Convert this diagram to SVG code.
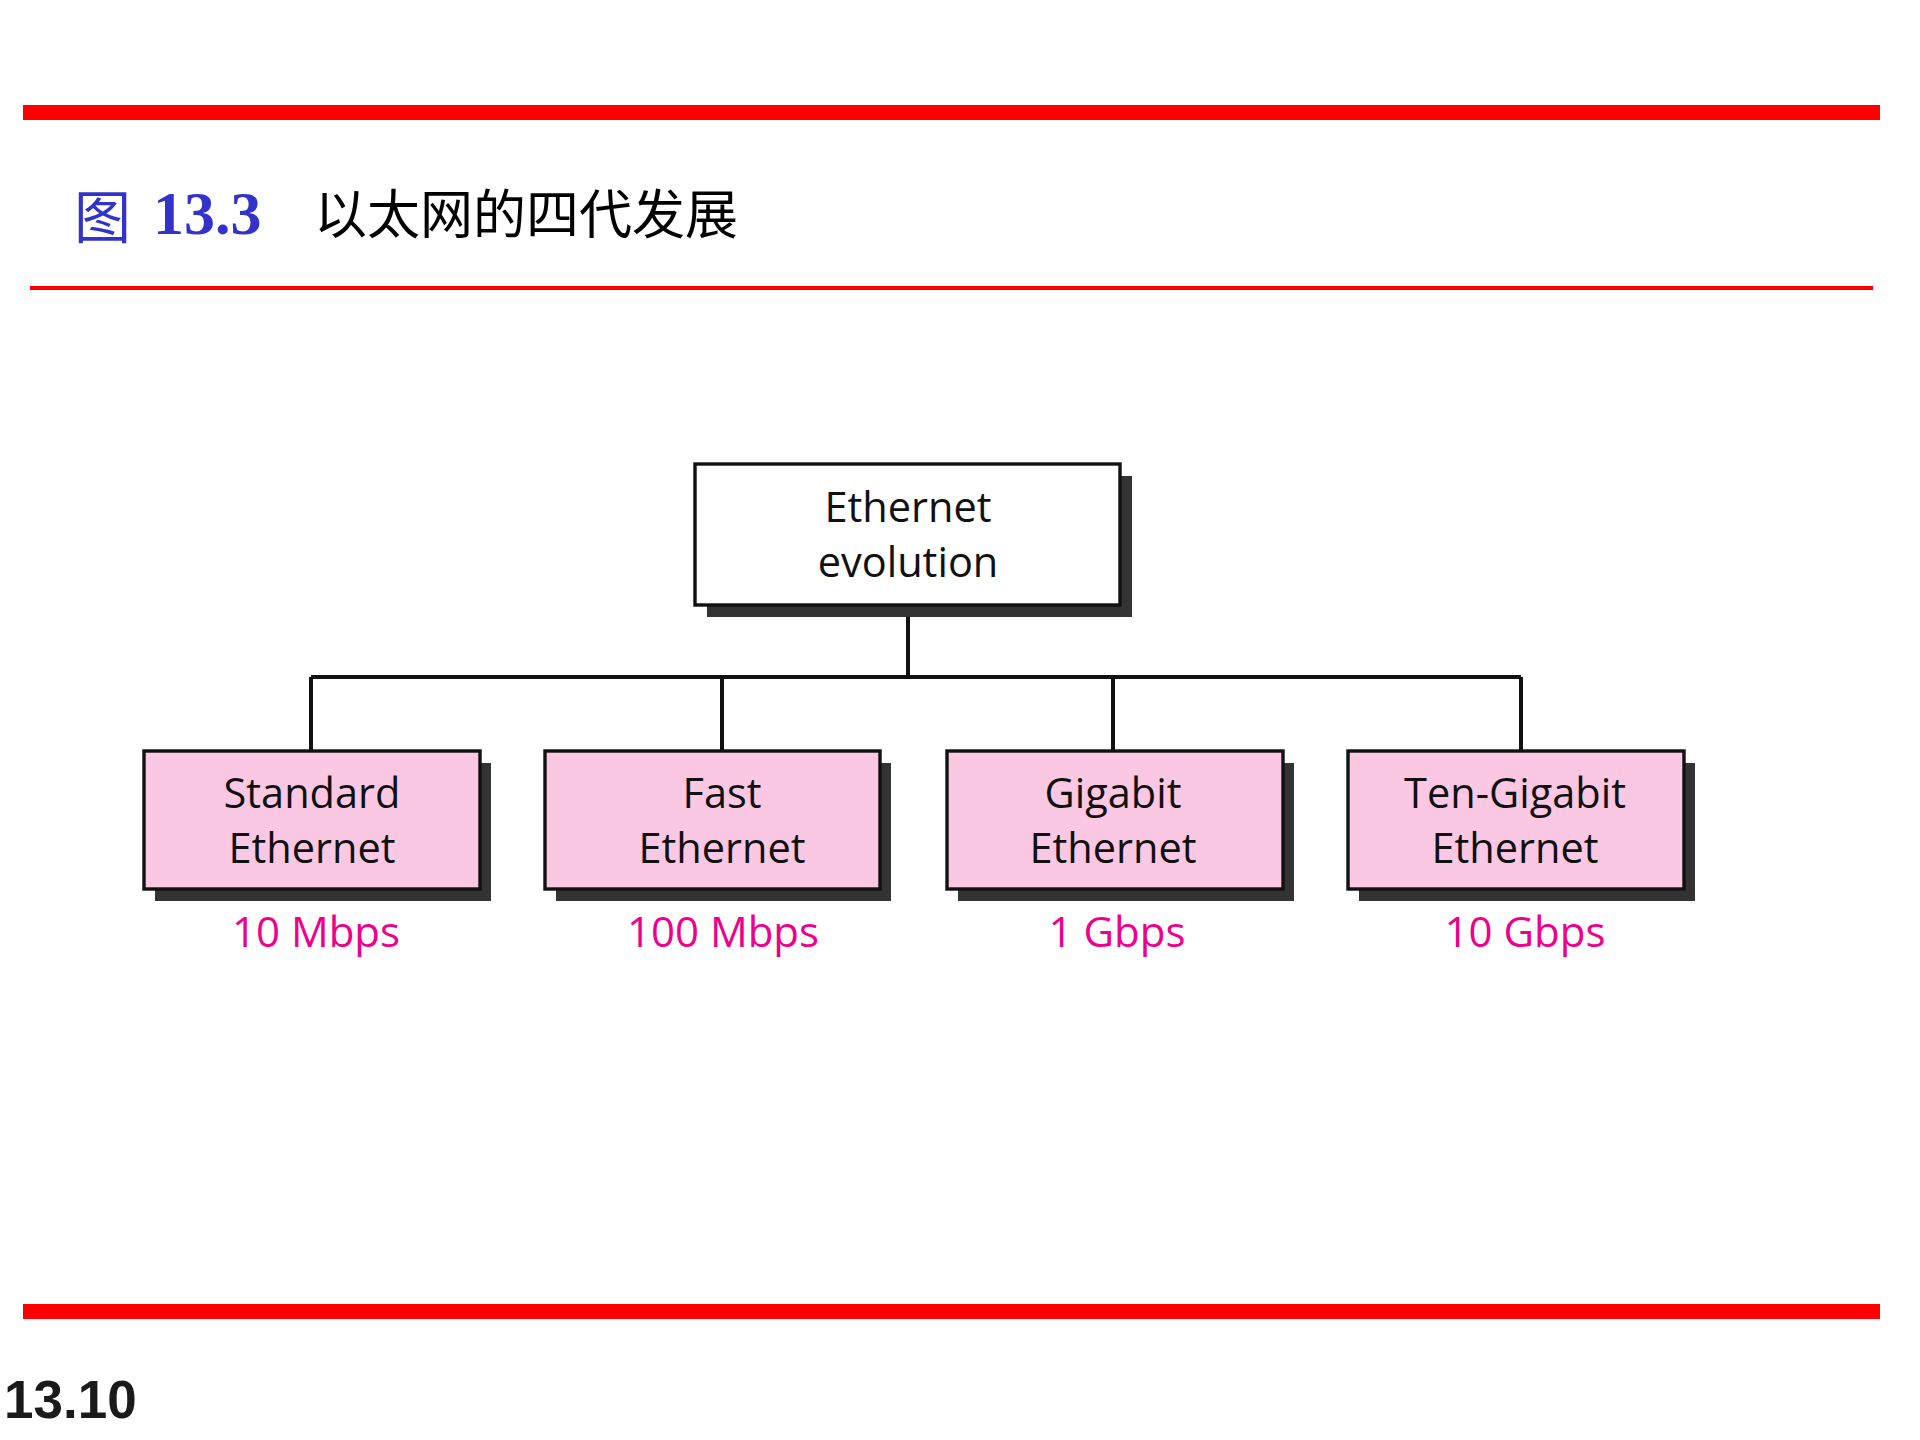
<svg xmlns="http://www.w3.org/2000/svg" width="1920" height="1440" viewBox="0 0 1920 1440">
<style>
.bar{fill:#ff0000}
.shadow{fill:#333333}
.top{fill:#ffffff;stroke:#111111;stroke-width:3.4}
.gen{fill:#fac8e2;stroke:#111111;stroke-width:3.4}
.lbl{font-family:"Open Sans","Noto Sans","DejaVu Sans",sans-serif;font-size:41.5px;fill:#111111;text-anchor:middle}
.spd{font-family:"Open Sans","Noto Sans","DejaVu Sans",sans-serif;font-size:42px;fill:#ec008c;text-anchor:middle}
.conn{fill:none;stroke:#111111;stroke-width:4}
</style>
<rect width="1920" height="1440" fill="#ffffff"/>
<g id="decor">
<rect class="bar" x="23" y="105" width="1857" height="15"/>
<rect class="bar" x="30" y="286" width="1843" height="4"/>
<rect class="bar" x="23" y="1304" width="1857" height="15"/>
</g>
<g id="title">
<text x="74" y="238" font-family="'Noto Sans CJK SC',sans-serif" font-size="57" fill="#3333cc">图</text>
<text x="153" y="234" font-family="'Liberation Serif',serif" font-weight="bold" font-size="62" fill="#3333cc">13.3</text>
<text x="314" y="234" font-family="'Noto Sans CJK SC',sans-serif" font-size="53" fill="#000000">以太网的四代发展</text>
</g>
<text id="page" x="4" y="1418" font-family="'Liberation Sans',Arial,sans-serif" font-weight="bold" font-size="53" fill="#1a1a1a">13.10</text>
<g id="connectors">
<path class="conn" d="M908,605 V677"/>
<path class="conn" d="M311,677 H1521"/>
<path class="conn" d="M311,677 V751 M722,677 V751 M1113,677 V751 M1521,677 V751"/>
</g>
<g id="node-root">
<rect class="shadow" x="707" y="476" width="425" height="141"/>
<rect class="top" x="695" y="464" width="425" height="141"/>
<text class="lbl" x="908" y="522">Ethernet</text>
<text class="lbl" x="908" y="577">evolution</text>
</g>
<g id="node-standard">
<rect class="shadow" x="155" y="763" width="336" height="138"/>
<rect class="gen" x="144" y="751" width="336" height="138"/>
<text class="lbl" x="312" y="808">Standard</text>
<text class="lbl" x="312" y="863">Ethernet</text>
<text class="spd" x="316" y="947">10 Mbps</text>
</g>
<g id="node-fast">
<rect class="shadow" x="556" y="763" width="335" height="138"/>
<rect class="gen" x="545" y="751" width="335" height="138"/>
<text class="lbl" x="722" y="808">Fast</text>
<text class="lbl" x="722" y="863">Ethernet</text>
<text class="spd" x="723" y="947">100 Mbps</text>
</g>
<g id="node-gigabit">
<rect class="shadow" x="958" y="763" width="336" height="138"/>
<rect class="gen" x="947" y="751" width="336" height="138"/>
<text class="lbl" x="1113" y="808">Gigabit</text>
<text class="lbl" x="1113" y="863">Ethernet</text>
<text class="spd" x="1117" y="947">1 Gbps</text>
</g>
<g id="node-tengigabit">
<rect class="shadow" x="1359" y="763" width="336" height="138"/>
<rect class="gen" x="1348" y="751" width="336" height="138"/>
<text class="lbl" x="1515" y="808">Ten-Gigabit</text>
<text class="lbl" x="1515" y="863">Ethernet</text>
<text class="spd" x="1525" y="947">10 Gbps</text>
</g>
</svg>
